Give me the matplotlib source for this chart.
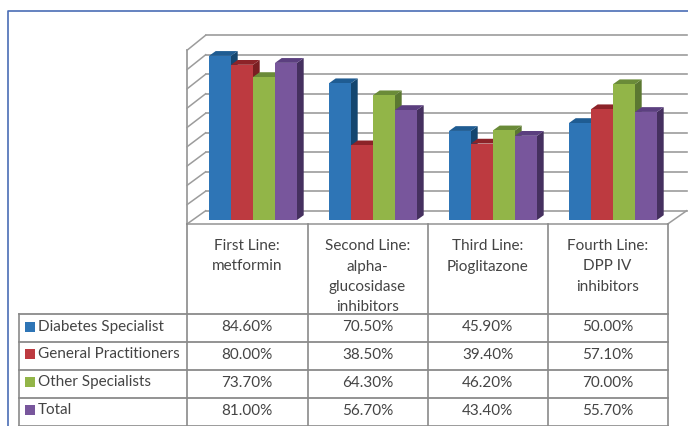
import matplotlib
matplotlib.use("Agg")
import matplotlib.pyplot as plt
from matplotlib.patches import Rectangle

plt.rcParams['font.family'] = ['Lato', 'DejaVu Sans']

W = 688
H = 426

headers = [["First Line:", "metformin"],
           ["Second Line:", "alpha-", "glucosidase", "inhibitors"],
           ["Third Line:", "Pioglitazone"],
           ["Fourth Line:", "DPP IV", "inhibitors"]]
series_names = ["Diabetes Specialist", "General Practitioners", "Other Specialists", "Total"]
diabetes = [84.6, 70.5, 45.9, 50.0]
general = [80.0, 38.5, 39.4, 57.1]
other = [73.7, 64.3, 46.2, 70.0]
total = [81.0, 56.7, 43.4, 55.7]
grid_values = [0, 10, 20, 30, 40, 50, 60, 70, 80, 90]

front_cols = ["#2E75B6", "#BD3A40", "#92B548", "#78569C"]
top_cols = ["#1F5C92", "#8C2328", "#6A8B38", "#5B3F7F"]
side_cols = ["#14466F", "#7A1E22", "#5B7831", "#45305F"]
grid_col = "#9C9C9C"
text_col = "#444444"

fig = plt.figure(figsize=(W / 100, H / 100), dpi=100)

# pixel axes for the frame, walls and the table
pa = fig.add_axes([0, 0, 1, 1])
pa.set_xlim(0, W)
pa.set_ylim(H, 0)
pa.axis("off")

# blue outer frame
pa.plot([7.5, 7.5, W], [H, 11, 11], color="#4A6DB5", lw=1.2)

# walls and gridlines
for v in grid_values:
    yb = 210.7 - 1.95 * v
    yf = 224 - 1.93 * v
    pa.plot([187, 205.7], [yf, yb], color=grid_col, lw=1.1)
    pa.plot([205.7, 686.7], [yb, yb], color=grid_col, lw=1.2)
pa.plot([187, 187], [50, 224], color=grid_col, lw=1.3)
pa.plot([667.7, 686.7], [224, 210.7], color=grid_col, lw=1.1)

# bars, category 0 starts on the left wall
ba = fig.add_axes([0, 0, 1, 1])
ba.patch.set_alpha(0)
ba.axis("off")
unit_x = 120.0
unit_y = 1.94
ba.set_xlim(-187 / unit_x, (W - 187) / unit_x)
ba.set_ylim(-(H - 220) / unit_y, 220 / unit_y)
bw = 22 / unit_x
dx = 6.7 / unit_x
dy = 4.8 / unit_y
all_series = [diabetes, general, other, total]
for c in range(4):
    for s in range(4):
        v = all_series[s][c]
        x0 = c + 22 / unit_x + s * bw
        x1 = x0 + bw
        ba.fill([x1, x1 + dx, x1 + dx, x1], [0, dy, v + dy, v], color=side_cols[s], lw=0)
        ba.fill([x0, x0 + dx, x1 + dx, x1], [v, v + dy, v + dy, v], color=top_cols[s], lw=0)
        ba.bar(x0, v, width=bw, align="edge", color=front_cols[s], lw=0)

# table lines, on top of the bars
ta = fig.add_axes([0, 0, 1, 1])
ta.patch.set_alpha(0)
ta.set_xlim(0, W)
ta.set_ylim(H, 0)
ta.axis("off")
col_x = [187, 307.5, 428, 547.5, 667.5]
row_y = [314, 341.5, 369.5, 397.5]
line_col = "#8A8A8A"
ta.plot([187, 667.5], [224, 224], color=grid_col, lw=1.2)
for x in col_x:
    ta.plot([x, x], [224, H], color=line_col, lw=1.2)
ta.plot([18.7, 18.7], [314, H], color=line_col, lw=1.2)
for y in row_y:
    ta.plot([18.7, 667.5], [y, y], color=line_col, lw=1.3)
ta.plot([18.7, 667.5], [H - 0.5, H - 0.5], color=line_col, lw=1.2)

header_y = [246, 266.5, 287, 307]
centers = [247, 367.5, 487.5, 607.5]
for c in range(4):
    for i, line in enumerate(headers[c]):
        ta.text(centers[c], header_y[i], line, ha="center", va="center", fontsize=11, color=text_col)

text_y = [327, 355, 383, 411]
legend_y = [327, 354, 382, 410]
for s in range(4):
    ta.add_patch(Rectangle((25, legend_y[s] - 5), 9.7, 10, color=front_cols[s], lw=0))
    ta.text(38, legend_y[s], series_names[s], ha="left", va="center", fontsize=11, color=text_col)
    for c in range(4):
        ta.text(centers[c], text_y[s], "%.2f%%" % all_series[s][c], ha="center", va="center",
                fontsize=11, color=text_col)

fig.savefig("out.png", dpi=100)
